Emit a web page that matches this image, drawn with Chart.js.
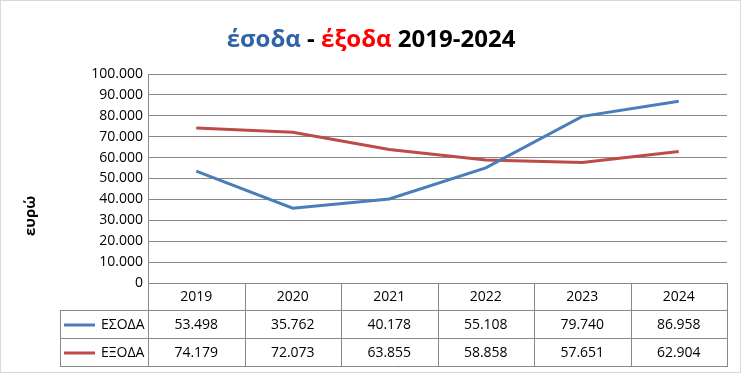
<!DOCTYPE html>
<html>
<head>
<meta charset="utf-8">
<script src="https://cdn.jsdelivr.net/npm/chart.js@4"></script>
<style>
  html, body { margin: 0; padding: 0; background: #fff; }
  #wrap { position: relative; width: 742px; height: 374px; }
  #title {
    position: absolute; left: 0; top: 21px; width: 742px; text-align: center;
    font: bold 24px "Open Sans", sans-serif; line-height: 34px; color: #000;
  }
  #title .in { color: #2e63a6; }
  #title .out { color: #ff0000; }
</style>
</head>
<body>
<div id="wrap">
  <canvas id="chart" width="742" height="374"></canvas>
  <div id="title"><span class="in">έσοδα</span> - <span class="out">έξοδα</span> 2019-2024</div>
</div>
<script>
const years = ["2019", "2020", "2021", "2022", "2023", "2024"];
const incomeLabel = "ΕΣΟΔΑ";
const expenseLabel = "ΕΞΟΔΑ";
const income = [53498, 35762, 40178, 55108, 79740, 86958];
const expenses = [74179, 72073, 63855, 58858, 57651, 62904];
const yTitle = "ευρώ";

const blue = "#4a7ebb";
const red = "#be4b48";
const gridColor = "#888888";
const font = '"Open Sans", sans-serif';

function fmt(v) {
  return String(v).replace(/\B(?=(\d{3})+(?!\d))/g, ".");
}

// data table under the plot, columns taken from the x scale
const tablePlugin = {
  id: "dataTable",
  afterDraw(chart) {
    const ctx = chart.ctx;
    const x = chart.scales.x;
    const area = chart.chartArea;
    const half = (x.getPixelForValue(1) - x.getPixelForValue(0)) / 2;
    const rowH = 28;
    const top = area.bottom;
    const legendLeft = 60;
    const rows = [
      { label: incomeLabel, color: blue, data: income },
      { label: expenseLabel, color: red, data: expenses }
    ];

    ctx.save();
    ctx.strokeStyle = gridColor;
    ctx.lineWidth = 1;
    ctx.beginPath();
    // verticals
    for (let i = 0; i <= years.length; i++) {
      const px = Math.round(x.getPixelForValue(0) - half + i * half * 2) + 0.5;
      ctx.moveTo(px, top);
      ctx.lineTo(px, top + rowH * 3);
    }
    ctx.moveTo(legendLeft + 0.5, top + rowH);
    ctx.lineTo(legendLeft + 0.5, top + rowH * 3);
    // horizontals
    for (let r = 1; r <= 3; r++) {
      const py = Math.round(top + rowH * r) - 0.5;
      ctx.moveTo(legendLeft, py);
      ctx.lineTo(area.right, py);
    }
    ctx.stroke();

    ctx.fillStyle = "#000";
    ctx.font = "14px " + font;
    ctx.textAlign = "center";
    ctx.textBaseline = "middle";
    years.forEach((y, i) => {
      ctx.fillText(y, x.getPixelForValue(i), top + rowH / 2);
    });
    rows.forEach((row, r) => {
      const cy = top + rowH * (r + 1.5);
      row.data.forEach((v, i) => {
        ctx.fillText(fmt(v), x.getPixelForValue(i), cy);
      });
      ctx.strokeStyle = row.color;
      ctx.lineWidth = 3;
      ctx.beginPath();
      ctx.moveTo(64, cy);
      ctx.lineTo(95, cy);
      ctx.stroke();
      ctx.textAlign = "left";
      ctx.fillText(row.label, 101, cy);
      ctx.textAlign = "center";
    });

    // y axis title
    ctx.font = "bold 15px " + font;
    ctx.translate(31, 216);
    ctx.rotate(-Math.PI / 2);
    ctx.fillText(yTitle, 0, 0);
    ctx.restore();

    // outer frame
    ctx.save();
    ctx.strokeStyle = "#d9d9d9";
    ctx.lineWidth = 1;
    ctx.strokeRect(0.5, 0.5, 740, 372);
    ctx.restore();
  }
};

new Chart(document.getElementById("chart"), {
  type: "line",
  data: {
    labels: years,
    datasets: [
      { label: incomeLabel, data: income, borderColor: blue, borderWidth: 3, pointRadius: 0, tension: 0 },
      { label: expenseLabel, data: expenses, borderColor: red, borderWidth: 3, pointRadius: 0, tension: 0 }
    ]
  },
  options: {
    responsive: false,
    animation: false,
    events: [],
    layout: { padding: { top: 74, right: 15, bottom: 91, left: 0 } },
    plugins: {
      legend: { display: false },
      title: { display: false },
      tooltip: { enabled: false }
    },
    scales: {
      x: { display: false, offset: true },
      y: {
        min: 0,
        max: 100000,
        afterFit(scale) { scale.width = 148; },
        ticks: {
          stepSize: 10000,
          padding: 5,
          color: "#000",
          font: { family: font, size: 14 },
          callback: v => fmt(v)
        },
        grid: { color: gridColor, drawTicks: false },
        border: { color: gridColor }
      }
    }
  },
  plugins: [tablePlugin]
});
</script>
</body>
</html>
